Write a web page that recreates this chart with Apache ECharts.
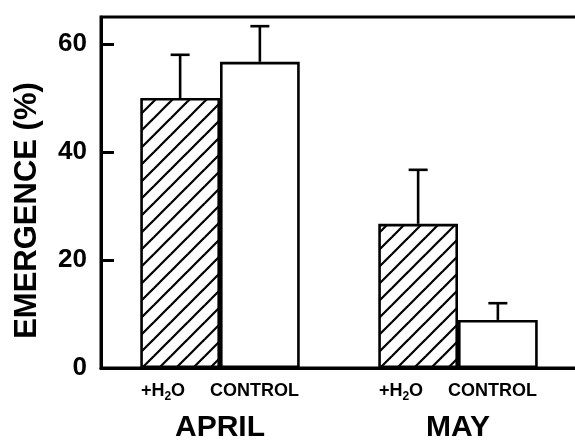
<!DOCTYPE html>
<html><head><meta charset="utf-8">
<script src="https://cdn.jsdelivr.net/npm/echarts@6/dist/echarts.min.js"></script>
<style>html,body{margin:0;padding:0;background:#fff}#c{width:575px;height:441px}</style>
</head><body><div id="c"></div>
<script>
// ---- data ----
const months = ['APRIL', 'MAY'];
const treatmentLabels = ['+H2O', 'CONTROL'];
const waterMeans = [50.0, 26.7];
const waterUpper = [58.0, 36.7];
const controlMeans = [56.7, 8.9];
const controlUpper = [63.3, 12.0];
const yTicks = [0, 20, 40, 60];
const yTitle = 'EMERGENCE (%)';

// ---- hatch pattern ----
function hatch() {
  const s = 17;
  const c = document.createElement('canvas');
  c.width = s; c.height = s;
  const g = c.getContext('2d');
  g.fillStyle = '#fff'; g.fillRect(0, 0, s, s);
  g.strokeStyle = '#000'; g.lineWidth = 2.2;
  for (const o of [-s, 0, s]) {
    g.beginPath(); g.moveTo(o - 2, s + 2); g.lineTo(o + s + 2, -2); g.stroke();
  }
  return c;
}

const FONT = 'Liberation Sans, Arial, Helvetica, sans-serif';
const GAP = 0.33;

function catLabel(m) {
  return '{h|+H}{s|2}{h|O}{g|}{h|CONTROL}\n{m|' + m + '}';
}

function errRender(seriesOffsetSign) {
  return function (params, api) {
    const idx = api.value(0);
    const mean = api.value(1);
    const up = api.value(2);
    const band = api.size([1, 0])[0];
    const bw = band * (1 - GAP) / 2;
    const x = api.coord([idx, 0])[0] + seriesOffsetSign * bw / 2;
    const yTop = api.coord([idx, up])[1];
    const yMean = api.coord([idx, mean])[1];
    const cap = 19;
    const st = { stroke: '#000', lineWidth: 2.6 };
    return {
      type: 'group',
      children: [
        { type: 'line', shape: { x1: x, y1: yMean, x2: x, y2: yTop }, style: st },
        { type: 'line', shape: { x1: x - cap / 2, y1: yTop, x2: x + cap / 2, y2: yTop }, style: st }
      ]
    };
  };
}

const chart = echarts.init(document.getElementById('c'), null, { renderer: 'canvas' });
chart.setOption({
  animation: false,
  backgroundColor: '#fff',
  grid: { left: 101, width: 476, top: 17, bottom: 73, show: true, borderColor: '#000', borderWidth: 3, containLabel: false, outerBoundsMode: 'none' },
  xAxis: {
    type: 'category',
    data: months,
    axisLine: { show: true, lineStyle: { color: '#000', width: 3 } },
    axisTick: { show: false },
    axisLabel: {
      margin: 11,
      formatter: catLabel,
      rich: {
        h: { fontFamily: FONT, fontWeight: 'bold', fontSize: 18, color: '#000', lineHeight: 24 },
        s: { fontFamily: FONT, fontWeight: 'bold', fontSize: 12, color: '#000', lineHeight: 14, verticalAlign: 'bottom' },
        g: { width: 25, lineHeight: 24 },
        m: { fontFamily: FONT, fontWeight: 'bold', fontSize: 30, color: '#000', lineHeight: 50 }
      }
    },
    splitLine: { show: false }
  },
  yAxis: {
    type: 'value',
    min: 0, max: 65, interval: 20,
    name: yTitle,
    nameLocation: 'middle',
    nameGap: 58,
    nameTextStyle: { fontFamily: FONT, fontWeight: 'bold', fontSize: 31, color: '#000', padding: [0, 36, 0, 0] },
    axisLine: { show: true, lineStyle: { color: '#000', width: 3 } },
    axisTick: { show: true, inside: true, length: 13, lineStyle: { color: '#000', width: 3 }, customValues: yTicks },
    axisLabel: { fontFamily: FONT, fontWeight: 'bold', fontSize: 26, color: '#000', margin: 14, customValues: yTicks },
    splitLine: { show: false }
  },
  series: [
    {
      name: treatmentLabels[0], type: 'bar', data: waterMeans,
      barGap: '0%', barCategoryGap: (GAP * 100) + '%',
      itemStyle: { color: { image: hatch(), repeat: 'repeat' }, borderColor: '#000', borderWidth: 2.6 }
    },
    {
      name: treatmentLabels[1], type: 'bar', data: controlMeans,
      barGap: '0%', barCategoryGap: (GAP * 100) + '%',
      itemStyle: { color: '#fff', borderColor: '#000', borderWidth: 2.6 }
    },
    {
      type: 'custom', renderItem: errRender(-1), z: 5,
      data: waterMeans.map((v, i) => [i, v, waterUpper[i]])
    },
    {
      type: 'custom', renderItem: errRender(1), z: 5,
      data: controlMeans.map((v, i) => [i, v, controlUpper[i]])
    }
  ]
});
</script></body></html>
